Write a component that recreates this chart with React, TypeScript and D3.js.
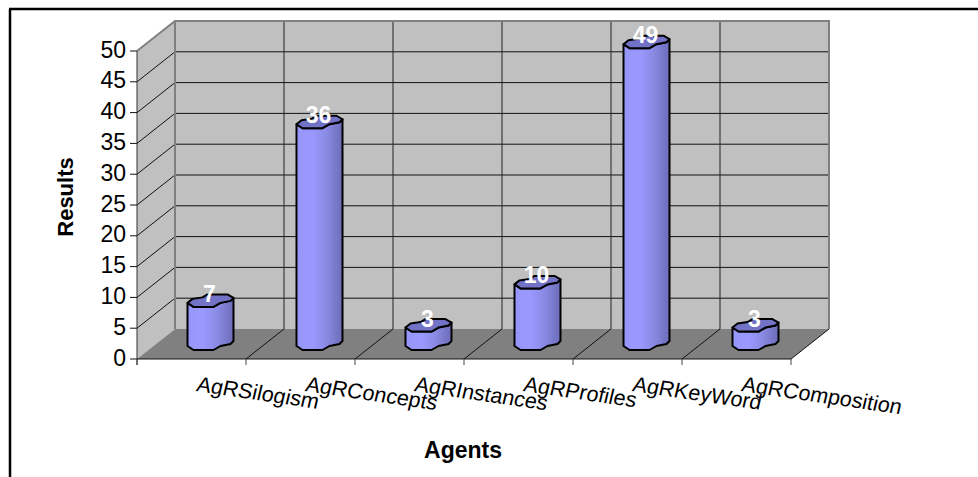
import React from "react";
import * as d3 from "d3";

const categories = ["AgRSilogism", "AgRConcepts", "AgRInstances", "AgRProfiles", "AgRKeyWord", "AgRComposition"];
const values = [7, 36, 3, 10, 49, 3];
const yTicks = [0, 5, 10, 15, 20, 25, 30, 35, 40, 45, 50];
const yTitle = "Results";
const xTitle = "Agents";

const W = 978, H = 477;
const FONT = "'Liberation Sans', Arial, sans-serif";
const depthX = 38, depthY = 30;
const x0 = 137, x1 = 791, y0 = 359, y1 = 51;

const xFront = d3.scaleBand<string>().domain(categories).range([x0, x1]);
const yFront = d3.scaleLinear().domain([0, 50]).range([y0, y1]);
const yBack = (v: number) => yFront(v) - depthY;
const yMid = (v: number) => yFront(v) - depthY / 2;
const cx = (c: string) => (xFront(c) as number) + xFront.bandwidth() / 2 + depthX / 2;

// Hand-drawn looking outline of the cylinder end, relative to its centre.
const backEdge: [number, number][] = [[-18, -2], [-8, -3.5], [-3, -6.5], [17, -6.5]];
const frontEdge: [number, number][] = [[23, -3], [20, 0], [10, 2], [3, 6], [-17, 6], [-23, 2]];
const line = d3.line();
const topFace = (x: number, y: number) =>
  line.curve(d3.curveLinearClosed)([...frontEdge, ...backEdge].map((p) => [x + p[0], y + p[1]] as [number, number]))!;
const body = (x: number, yt: number, yb: number) => {
  const pts: [number, number][] = [
    ...frontEdge.map((p) => [x + p[0], yb + p[1]] as [number, number]),
    ...[...frontEdge].reverse().map((p) => [x + p[0], yt + p[1]] as [number, number]),
  ];
  return line.curve(d3.curveLinearClosed)(pts)!;
};

const pts = (p: [number, number][]) => p.map((q) => q.join(",")).join(" ");

export default function App() {
  const gridTicks = yTicks.filter((t) => t > 0 && t < 50);
  const boundaries = categories.map((c) => xFront(c) as number).concat([x1]);
  return (
    <svg width={W} height={H} style={{ position: "absolute", left: 0, top: 0, background: "#fff" }} fontFamily={FONT}>
      <defs>
        <linearGradient id="cyl" x1="0" x2="1" y1="0" y2="0">
          <stop offset="0" stopColor="#9696fa" />
          <stop offset="0.35" stopColor="#9999ff" />
          <stop offset="0.65" stopColor="#8a8ae4" />
          <stop offset="1" stopColor="#6c6cb8" />
        </linearGradient>
      </defs>
      <line x1={9} x2={W} y1={9} y2={9} stroke="#000" strokeWidth={2.5} />
      <line x1={10} x2={10} y1={9} y2={H} stroke="#000" strokeWidth={2.5} />

      <polygon points={pts([[x0 + depthX, yBack(50)], [x1 + depthX, yBack(50)], [x1 + depthX, yBack(0)], [x0 + depthX, yBack(0)]])} fill="#c0c0c0" />
      <polygon points={pts([[x0, y1], [x0 + depthX, yBack(50)], [x0 + depthX, yBack(0)], [x0, y0]])} fill="#c0c0c0" />
      <polygon points={pts([[x0, y0], [x0 + depthX, yBack(0)], [x1 + depthX, yBack(0)], [x1, y0]])} fill="#808080" />

      {gridTicks.map((t) => (
        <g key={t} stroke="#111" strokeWidth={1}>
          <line x1={x0} y1={yFront(t)} x2={x0 + depthX} y2={yBack(t)} />
          <line x1={x0 + depthX} y1={yBack(t)} x2={x1 + depthX} y2={yBack(t)} />
        </g>
      ))}
      {boundaries.slice(1, -1).map((b, i) => (
        <line key={i} x1={b + depthX} x2={b + depthX} y1={yBack(50)} y2={yBack(0)} stroke="#222" strokeWidth={1} />
      ))}
      {boundaries.slice(1).map((b, i) => (
        <line key={i} x1={b} y1={y0} x2={b + depthX} y2={yBack(0)} stroke="#111" strokeWidth={1} />
      ))}
      <path d={`M${x0},${y1}L${x0 + depthX},${yBack(50)}H${x1 + depthX}V${yBack(0)}`} fill="none" stroke="#808080" strokeWidth={2} />
      <line x1={x0 + depthX} x2={x0 + depthX} y1={yBack(50)} y2={yBack(0)} stroke="#808080" strokeWidth={2} />

      <line x1={x0} x2={x0} y1={y1} y2={y0 + 6} stroke="#333" strokeWidth={1} />
      <line x1={x0} x2={x1} y1={y0} y2={y0} stroke="#111" strokeWidth={1} />
      {boundaries.map((b, i) => (
        <line key={i} x1={b} x2={b} y1={y0} y2={y0 + 6} stroke="#444" strokeWidth={1} />
      ))}
      {yTicks.map((t) => (
        <g key={t}>
          <line x1={x0 - 7} x2={x0} y1={yFront(t)} y2={yFront(t)} stroke="#111" strokeWidth={1} />
          <text x={x0 - 11} y={yFront(t) + 6.5} textAnchor="end" fontSize={23} fill="#000">{t}</text>
        </g>
      ))}

      {categories.map((c, i) => {
        const x = cx(c), yt = yMid(values[i]), yb = yMid(0);
        return (
          <g key={c}>
            <path d={body(x, yt, yb)} fill="url(#cyl)" stroke="#000" strokeWidth={2} strokeLinejoin="round" />
            <path d={topFace(x, yt)} fill="#7272c6" stroke="#000" strokeWidth={2} strokeLinejoin="round" />
            <text x={x - 1} y={yt + 1} textAnchor="middle" fontSize={23} fontWeight="bold" fill="#fff">{values[i]}</text>
          </g>
        );
      })}

      {categories.map((c) => (
        <text key={c} transform={`translate(${(xFront(c) as number) + 58.5},391) rotate(8.3) skewX(-5)`} fontSize={21.5} fill="#000">{c}</text>
      ))}
      <text x={463} y={458} textAnchor="middle" fontSize={23} fontWeight="bold" fill="#000">{xTitle}</text>
      <text transform="translate(73,197) rotate(-90)" textAnchor="middle" fontSize={22} fontWeight="bold" fill="#000">{yTitle}</text>
    </svg>
  );
}
